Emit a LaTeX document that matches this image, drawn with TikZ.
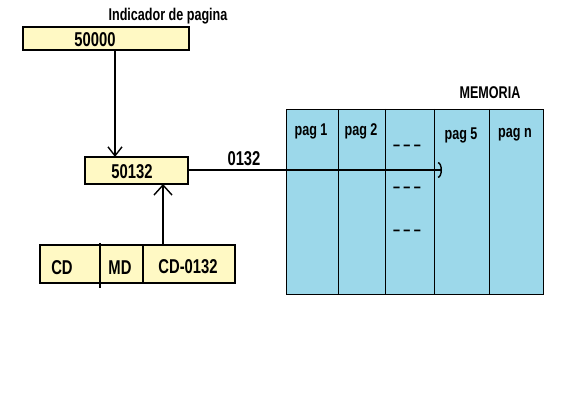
\documentclass[tikz,border=0pt]{standalone}
\usepackage{fontspec}
\setmainfont{Liberation Sans}[FakeStretch=0.74]
\usetikzlibrary{arrows.meta}
\definecolor{boxyellow}{RGB}{255,249,196}
\definecolor{memblue}{RGB}{156,216,234}
\tikzset{
  ybox/.style={draw=black, line width=1.6pt, fill=boxyellow},
  lbl/.style={font=\bfseries\fontsize{20}{20}\selectfont, inner sep=0pt},
  mlbl/.style={font=\bfseries\fontsize{17}{17}\selectfont, inner sep=0pt},
  conn/.style={line width=1.4pt},
}
\begin{document}
\begin{tikzpicture}[x=1pt,y=-1pt]
\useasboundingbox (0,0) rectangle (574,403);
% top box
\draw[ybox] (23,27) rectangle (189,50);
\node[lbl] (tl) at (95,40) {50000};
\node[lbl, font=\bfseries\fontsize{17}{17}\selectfont] (ind) at (168,16) {Indicador de pagina};
\coordinate (topout) at (115,50);
% middle box
\draw[ybox] (85,157) rectangle (188,184);
\node[lbl] (ml) at (132,172) {50132};
\coordinate (midtop) at (115,157);
\coordinate (midbot) at (163,184);
\coordinate (midright) at (188,170);
% bottom box
\draw[ybox] (40,245) rectangle (235,283);
\draw[line width=1.6pt] (100,243) -- (100,288);
\draw[line width=1.6pt] (143,245) -- (143,283);
\node[lbl] (cd) at (62,268) {CD};
\node[lbl] (md) at (120,268) {MD};
\node[lbl] (cd2) at (188,267) {CD-0132};
\coordinate (bottop) at (163,245);
% memory
\fill[memblue] (286,109) rectangle (543,294);
\draw[line width=0.8pt] (286,109) rectangle (543,294);
\foreach \x in {338,385,434,489} \draw[line width=0.8pt] (\x,109) -- (\x,294);
\node[mlbl] (mem) at (490,93) {MEMORIA};
\node[mlbl] (p1) at (311,131) {pag 1};
\node[mlbl] (p2) at (361,131) {pag 2};
\node[mlbl] (p5) at (461,135) {pag 5};
\node[mlbl] (pn) at (515,135) {pag n};
\node[mlbl] (d1) at (407,148) {–\hspace{3.5pt}–\hspace{3.5pt}–};
\node[mlbl] (d2) at (407,190) {–\hspace{3.5pt}–\hspace{3.5pt}–};
\node[mlbl] (d3) at (407,233) {–\hspace{3.5pt}–\hspace{3.5pt}–};
\coordinate (target) at (442,170);
% connectors
\draw[conn, -{Straight Barb[length=9pt,width=14pt]}] (topout) -- (midtop);
\draw[conn, -{Straight Barb[length=10pt,width=18pt]}] (bottop) -- (midbot);
\draw[conn, -{Arc Barb[length=4pt,width=16pt]}] (midright) -- (target);
\node[lbl] (off) at (244,159) {0132};
\end{tikzpicture}
\end{document}
